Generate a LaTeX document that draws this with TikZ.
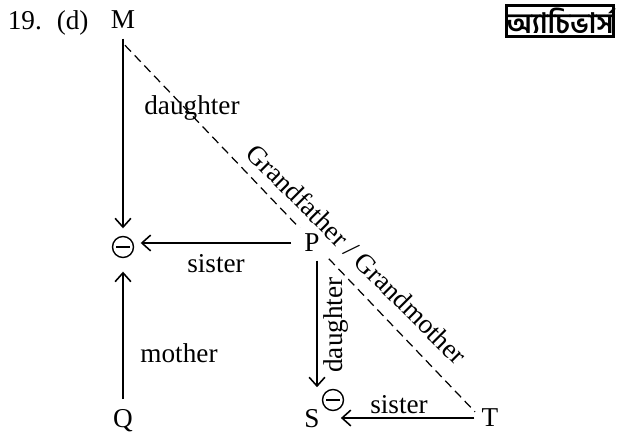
\documentclass[tikz,border=0pt]{standalone}
\usepackage{fontspec}
\setmainfont{Liberation Serif}
\newfontfamily\bnfont[Script=Bengali]{Hind Siliguri}
\usetikzlibrary{arrows.meta}

\begin{document}
\begin{tikzpicture}[x=0.02cm, y=-0.02cm, line width=0.9pt,
                    every node/.style={inner sep=0pt, text depth=0pt,
                                       font=\fontsize{15.5}{18}\selectfont},
                    fem/.style={draw, circle, minimum size=0.42cm, line width=0.8pt,
                                path picture={\draw[line width=0.8pt]
                                  ([xshift=2.2pt]path picture bounding box.west) --
                                  ([xshift=-2.2pt]path picture bounding box.east);}},
                    arr/.style={-{Straight Barb[length=5pt, width=9pt]}},
                    rel/.style={dash pattern=on 5pt off 3pt, line width=0.7pt}]
    \useasboundingbox (0,0) rectangle (621,438);
    \node[anchor=west] (num) at (7,20) {19.\hspace{0.3cm}(d)};
    \node (M)  at (123,20)  {M};
    \node[fem] (f1) at (123,247) {};
    \node (Q)  at (123,418) {Q};
    \node (S)  at (312,418) {S};
    \node[fem] (f2) at (333,400) {};
    \node (T)  at (490,418) {T};
    \draw[rel, shorten <=0.43cm, shorten >=0.17cm] (M.south west) -- (T.west);
    \node[fill=white, inner sep=0.12cm] (P) at (312,243) {P};
    \node[draw, line width=1.3pt, minimum width=2.1cm, minimum height=0.62cm,
          font=\bnfont\bfseries\fontsize{16}{16}\selectfont] (logo) at (560,21) {অ্যাচিভার্স};

    \draw[arr, shorten <=0.18cm, shorten >=0.15cm] (M) -- (f1);
    \draw[arr, shorten <=0.18cm, shorten >=0.27cm] (Q) -- (f1);
    \draw[arr, shorten <=0.13cm, shorten >=0.13cm] (P.west) -- (P.west -| f1.east);
    \draw[arr, shorten <=0.04cm, shorten >=0.42cm] ([xshift=0.1cm]P.south) -- ([xshift=0.1cm]S.north);
    \draw[arr, shorten <=0.13cm, shorten >=0.41cm] (T.west) -- (S.east);

    \node (d1) at (192,105) {daughter};
    \node (s1) at (216,263) {sister};
    \node (mo) at (179,353) {mother};
    \node[rotate=90] (d2) at (333,325) {daughter};
    \node (s2) at (399,404) {sister};
    \node[rotate=-45] (gg) at (357,254) {Grandfather / Grandmother};
\end{tikzpicture}
\end{document}
